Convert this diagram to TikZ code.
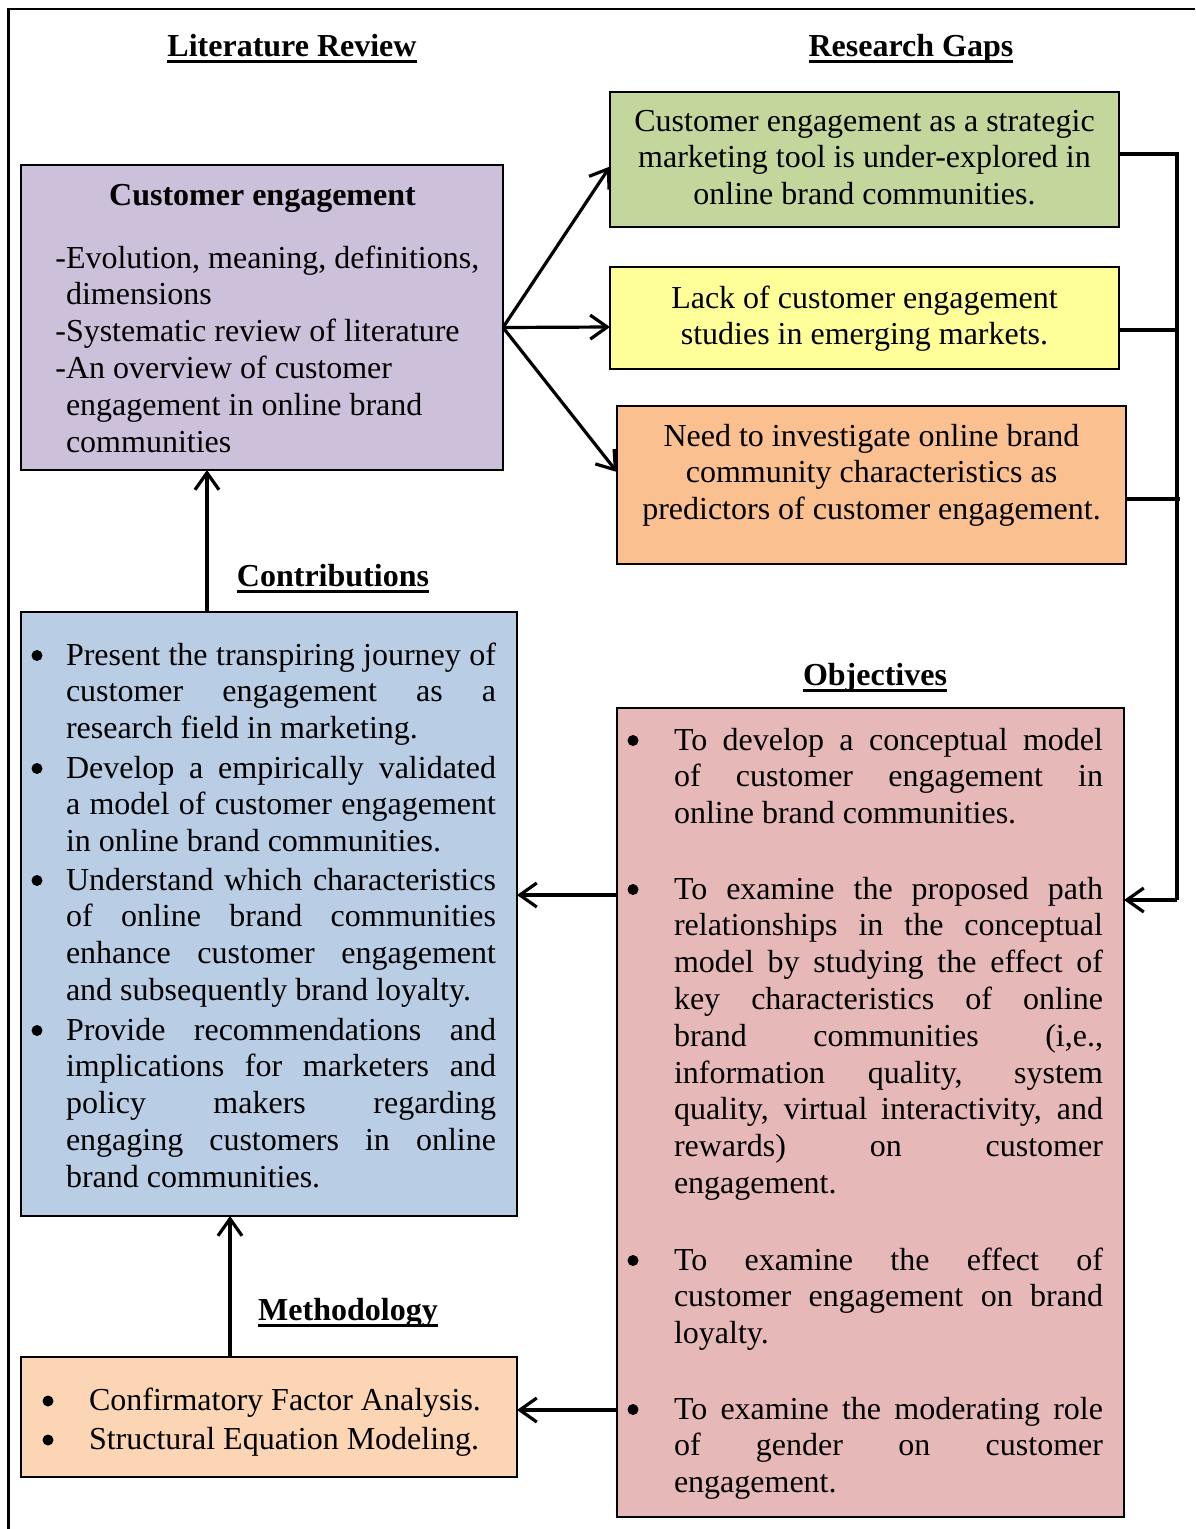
\documentclass[tikz,border=0pt]{standalone}
\usepackage{fontspec}
\setmainfont{Liberation Serif}
\usetikzlibrary{arrows.meta}

\definecolor{cePurple}{RGB}{204,192,218}
\definecolor{gapGreen}{RGB}{195,214,155}
\definecolor{gapYellow}{RGB}{255,255,153}
\definecolor{gapOrange}{RGB}{250,192,144}
\definecolor{conBlue}{RGB}{185,205,229}
\definecolor{objPink}{RGB}{230,185,184}
\definecolor{metPeach}{RGB}{252,213,181}

% underlined heading with a fixed rule below the baseline
\newsavebox\hdbox
\newcommand\headul[1]{\sbox\hdbox{#1}\rlap{\rule[-7pt]{\wd\hdbox}{3.5pt}}\usebox\hdbox}
% fixed natural word spacing of the font
\newcommand\nsp{\spaceskip=0.25em\xspaceskip=0.25em\relax}
% hanging dash at the start of a list line
\newcommand\hdash{\leavevmode\llap{-}}
% justified single lines: word spaces stretch to the full column
\newcommand\jb[1]{\makebox[430pt][s]{\spaceskip=0.25em plus 1fil\relax#1}}
\newcommand\jo[1]{\makebox[429pt][s]{\spaceskip=0.25em plus 1fil\relax#1}}

\begin{document}
\begin{tikzpicture}[x=1pt,y=-1pt,
  every node/.style={inner sep=0pt,outer sep=0pt},
  txt/.style={font=\fontsize{32}{36.8}\selectfont},
  head/.style={font=\fontsize{32}{36.8}\selectfont\bfseries,anchor=base},
  boxnode/.style={draw=black,line width=1.5pt,anchor=north west,inner sep=0pt},
  para/.style={txt,anchor=base west,align=left},
  ctr/.style={txt,anchor=base,align=center},
  arr/.style={line width=3.2pt,-{Straight Barb[length=17pt,width=24pt]}},
  brk/.style={line width=3.6pt},
  bul/.style={fill=black}]

\useasboundingbox (0,0) rectangle (1195,1529);

% outer frame
\draw[line width=2.5pt] (1195,9) -- (8.5,9) -- (8.5,1529);

% headings
\node[head] (hlit) at (292,56) {\headul{Literature Review}};
\node[head] (hgap) at (911,56) {\headul{Research Gaps}};
\node[head] (hcon) at (333,586) {\headul{Contributions}};
\node[head] (hobj) at (875,685) {\headul{Objectives}};
\node[head] (hmet) at (348,1320) {\headul{Methodology}};

% boxes
\node[boxnode,fill=cePurple,minimum width=482pt,minimum height=305pt] (ce) at (21,165) {};
\node[boxnode,fill=gapGreen,minimum width=509pt,minimum height=135pt] (g1) at (610,92) {};
\node[boxnode,fill=gapYellow,minimum width=509pt,minimum height=102pt] (y1) at (610,267) {};
\node[boxnode,fill=gapOrange,minimum width=509pt,minimum height=158pt] (o1) at (617,406) {};
\node[boxnode,fill=conBlue,minimum width=496pt,minimum height=604pt] (blue) at (21,612) {};
\node[boxnode,fill=objPink,minimum width=507pt,minimum height=809pt] (obj) at (617,708) {};
\node[boxnode,fill=metPeach,minimum width=496pt,minimum height=120pt] (met) at (21,1357) {};

% literature review box
\node[head] (cet) at (262.5,205) {Customer engagement};
\node[para,text width=430pt] (cel) at (66,268) {\nsp\hdash Evolution, meaning, definitions,\\
dimensions\\
\hdash Systematic review of literature\\
\hdash An overview of customer\\
engagement in online brand\\
communities};

% research gaps
\node[ctr,text width=509pt] (g1t) at (864.5,131) {\nsp Customer engagement as a strategic\\marketing tool is under-explored in\\online brand communities.};
\node[ctr,text width=509pt] (y1t) at (864.5,308) {\nsp Lack of customer engagement\\studies in emerging markets.};
\node[ctr,text width=509pt] (o1t) at (871.5,446) {\nsp Need to investigate online brand\\community characteristics as\\predictors of customer engagement.};

% contributions
\node[para,text width=430pt] (con1) at (66,665) {\nsp\jb{Present the transpiring journey of}\\\jb{customer engagement as a}\\research field in marketing.};
\node[para,text width=430pt] (con2) at (66,778) {\nsp\jb{Develop a empirically validated}\\\jb{a model of customer engagement}\\in online brand communities.};
\node[para,text width=430pt] (con3) at (66,890) {\nsp\jb{Understand which characteristics}\\\jb{of online brand communities}\\\jb{enhance customer engagement}\\and subsequently brand loyalty.};
\node[para,text width=430pt] (con4) at (66,1040) {\nsp\jb{Provide recommendations and}\\\jb{implications for marketers and}\\\jb{policy makers regarding}\\\jb{engaging customers in online}\\brand communities.};
\foreach \n in {con1,con2,con3,con4}
  \fill[bul] ([xshift=-29pt,yshift=9.5pt]\n.base west) circle (5.5pt);

% objectives
\node[para,text width=429pt] (obj1) at (674,750) {\nsp\jo{To develop a conceptual model}\\\jo{of customer engagement in}\\online brand communities.};
\node[para,text width=429pt] (obj2) at (674,899) {\nsp\jo{To examine the proposed path}\\\jo{relationships in the conceptual}\\\jo{model by studying the effect of}\\\jo{key characteristics of online}\\\jo{brand communities (i,e.,}\\\jo{information quality, system}\\\jo{quality, virtual interactivity, and}\\\jo{rewards) on customer}\\engagement.};
\node[para,text width=429pt] (obj3) at (674,1270) {\nsp\jo{To examine the effect of}\\\jo{customer engagement on brand}\\loyalty.};
\node[para,text width=429pt] (obj4) at (674,1419) {\nsp\jo{To examine the moderating role}\\\jo{of gender on customer}\\engagement.};
\foreach \n in {obj1,obj2,obj3,obj4}
  \fill[bul] ([xshift=-41pt,yshift=9.5pt]\n.base west) circle (5.5pt);

% methodology
\node[para] (met1) at (89,1410) {\nsp Confirmatory Factor Analysis.};
\node[para] (met2) at (89,1449) {\nsp Structural Equation Modeling.};
\foreach \n in {met1,met2}
  \fill[bul] ([xshift=-41pt,yshift=9pt]\n.base west) circle (5.5pt);

% literature review to research gaps
\draw[arr] ([yshift=-10pt]ce.east) -- ([yshift=-7pt]g1.west);
\draw[arr] ([yshift=-10pt]ce.east) -- ([yshift=-9pt]y1.west);
\draw[arr] ([yshift=-10pt]ce.east) -- ([yshift=13pt]o1.west);

% research gaps bracket into objectives
\coordinate (railbot) at (1177,900);
\draw[brk] ([yshift=5.5pt]g1.east) -| (railbot);
\draw[brk] ([yshift=-12pt]y1.east) -- ++(58,0);
\draw[brk] ([yshift=-14pt]o1.east) -- ++(54,0);
\draw[arr] (railbot) -- ([yshift=212.5pt]obj.east);

% objectives to contributions and methodology
\draw[arr] ([yshift=217.5pt]obj.west) -- ([yshift=217.5pt]obj.west -| blue.east);
\draw[arr] ([yshift=-297.5pt]obj.west) -- ([yshift=-297.5pt]obj.west -| met.east);

% upward arrows
\draw[arr] ([xshift=186pt]blue.north west) -- ([xshift=186pt]ce.south west);
\draw[arr] ([xshift=209pt]met.north west) -- ([xshift=209pt]blue.south west);

\end{tikzpicture}
\end{document}
